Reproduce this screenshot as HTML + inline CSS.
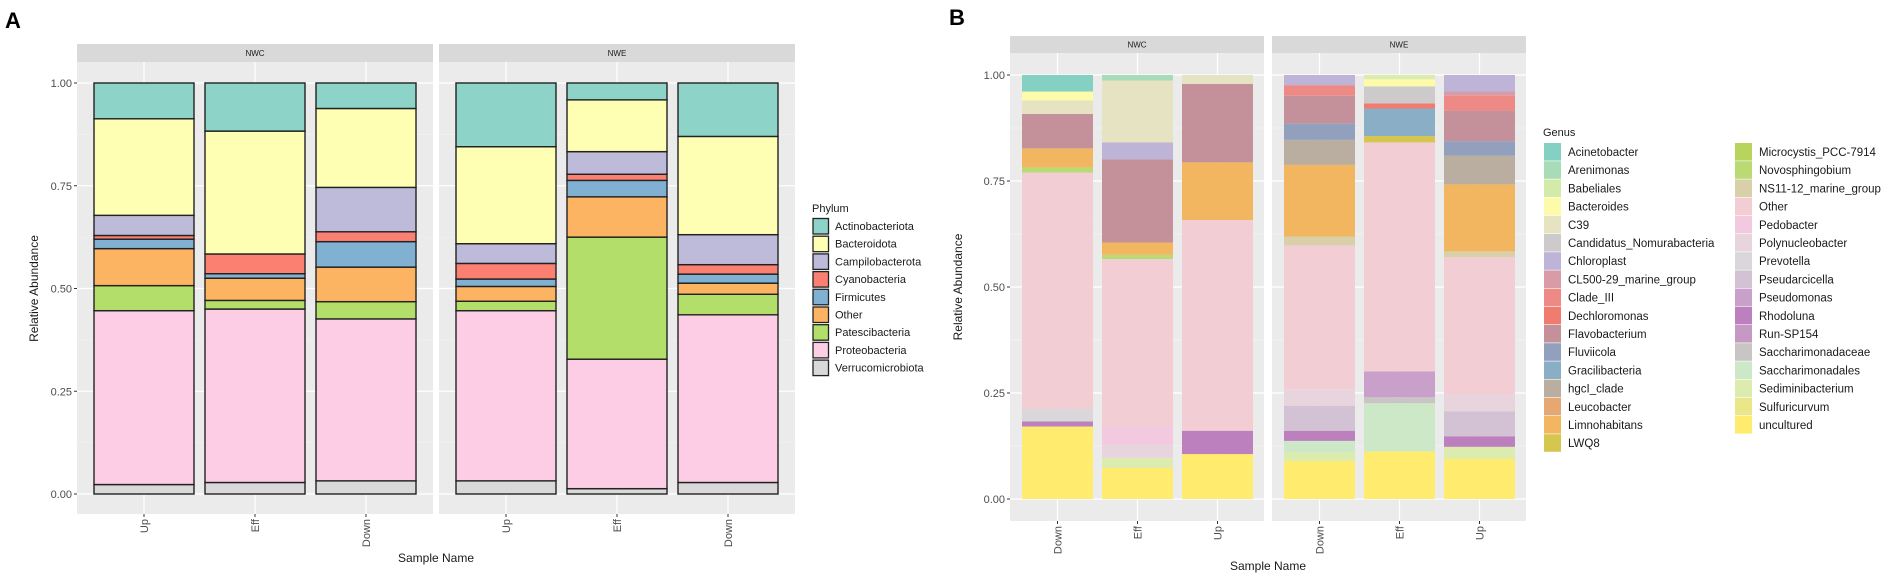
<!DOCTYPE html>
<html><head><meta charset="utf-8"><style>
body{margin:0;background:#fff;}
svg{display:block;font-family:"Liberation Sans",Arial,sans-serif;}
</style></head><body>
<svg id="fig" width="1901" height="581" viewBox="0 0 1901 581" xmlns="http://www.w3.org/2000/svg"></svg>
<script>
// ---------- Panel A data ----------
const phyla = ["Actinobacteriota","Bacteroidota","Campilobacterota","Cyanobacteria","Firmicutes","Other","Patescibacteria","Proteobacteria","Verrucomicrobiota"];
const phylaColors = ["#8dd3c7","#ffffb3","#bebada","#fb8072","#80b1d3","#fdb462","#b3de69","#fccde5","#d9d9d9"];
const samplesA = ["Up","Eff","Down"];
const facets = ["NWC","NWE"];
// stacked from bottom: Verruco, Proteo, Patesci, Other, Firmi, Cyano, Campi, Bacteroid, Actino
const stackOrderA = [8,7,6,5,4,3,2,1,0];
const A_NWC_Up   = [0.023,0.423,0.061,0.090,0.023,0.009,0.049,0.235,0.087];
const A_NWC_Eff  = [0.028,0.422,0.021,0.054,0.011,0.048,0.000,0.299,0.117];
const A_NWC_Down = [0.032,0.394,0.042,0.084,0.062,0.024,0.108,0.192,0.062];
const A_NWE_Up   = [0.032,0.414,0.023,0.036,0.018,0.038,0.048,0.236,0.155];
const A_NWE_Eff  = [0.013,0.315,0.297,0.098,0.040,0.015,0.055,0.126,0.041];
const A_NWE_Down = [0.028,0.408,0.050,0.027,0.022,0.023,0.073,0.239,0.130];
const yTicks = [0,0.25,0.5,0.75,1];
const yTickLabels = ["0.00","0.25","0.50","0.75","1.00"];

// ---------- Panel B data ----------
const genera = ["Acinetobacter","Arenimonas","Babeliales","Bacteroides","C39","Candidatus_Nomurabacteria","Chloroplast","CL500-29_marine_group","Clade_III","Dechloromonas","Flavobacterium","Fluviicola","Gracilibacteria","hgcI_clade","Leucobacter","Limnohabitans","LWQ8","Microcystis_PCC-7914","Novosphingobium","NS11-12_marine_group","Other","Pedobacter","Polynucleobacter","Prevotella","Pseudarcicella","Pseudomonas","Rhodoluna","Run-SP154","Saccharimonadaceae","Saccharimonadales","Sediminibacterium","Sulfuricurvum","uncultured"];
const generaColors = ["#84d0c2","#a8dcb8","#d3eba9","#fdfbaa","#e5e3c2","#cccaca","#bdb4d8","#d99ba6","#ee8a85","#f07c70","#c4919a","#93a0bd","#8aaec6","#b9ae9f","#e6a872","#f2b660","#d5c650","#b9d45c","#bada74","#d9d0a9","#f2cdd4","#f2c9de","#e8d4dd","#d9d7d9","#d3c2d4","#c8a0c9","#bc80be","#c699c5","#c9c5c5","#cde8c7","#dbecae","#ebe687","#ffeb6e"];
const samplesB = ["Down","Eff","Up"];
const B_NWC_Down_g = ["uncultured","Rhodoluna","Prevotella","Other","Other","Novosphingobium","Limnohabitans","Flavobacterium","C39","Bacteroides","Acinetobacter"];
const B_NWC_Down_v = [0.171,0.012,0.029,0.438,0.120,0.012,0.045,0.081,0.032,0.021,0.039];
const B_NWC_Eff_g = ["uncultured","Sediminibacterium","Polynucleobacter","Pedobacter","Other","Novosphingobium","Limnohabitans","Flavobacterium","Chloroplast","C39","Arenimonas"];
const B_NWC_Eff_v = [0.073,0.024,0.031,0.043,0.395,0.010,0.029,0.196,0.040,0.146,0.013];
const B_NWC_Up_g = ["uncultured","Rhodoluna","Other","Limnohabitans","Flavobacterium","C39"];
const B_NWC_Up_v = [0.106,0.055,0.497,0.136,0.185,0.021];
const B_NWE_Down_g = ["uncultured","Sediminibacterium","Saccharimonadales","Rhodoluna","Pseudarcicella","Polynucleobacter","Other","NS11-12_marine_group","Limnohabitans","hgcI_clade","Fluviicola","Flavobacterium","Clade_III","Chloroplast"];
const B_NWE_Down_v = [0.090,0.020,0.027,0.024,0.059,0.039,0.339,0.021,0.169,0.059,0.039,0.065,0.025,0.024];
const B_NWE_Eff_g = ["uncultured","Saccharimonadales","Saccharimonadaceae","Pseudomonas","Other","LWQ8","Gracilibacteria","Dechloromonas","Candidatus_Nomurabacteria","Bacteroides","Sediminibacterium"];
const B_NWE_Eff_v = [0.112,0.114,0.014,0.061,0.540,0.015,0.065,0.012,0.040,0.017,0.010];
const B_NWE_Up_g = ["uncultured","Sediminibacterium","Rhodoluna","Pseudarcicella","Polynucleobacter","Other","NS11-12_marine_group","Limnohabitans","hgcI_clade","Fluviicola","Flavobacterium","Clade_III","CL500-29_marine_group","Chloroplast"];
const B_NWE_Up_v = [0.095,0.028,0.025,0.059,0.039,0.324,0.014,0.158,0.068,0.034,0.072,0.035,0.010,0.039];

const NS="http://www.w3.org/2000/svg";
const svg=document.getElementById('fig');
function mk(tag,attrs,parent,text){const e=document.createElementNS(NS,tag);for(const k in attrs)e.setAttribute(k,attrs[k]);if(text!==undefined)e.textContent=text;(parent||svg).appendChild(e);return e;}

function drawPanel(cfg){
  const g=mk('g',{});
  
  
  const yScale=v=>cfg.y0+(cfg.y1-cfg.y0)*v;
  cfg.facets.forEach((f,fi)=>{
    const px=cfg.px[fi];
    const strip=mk('rect',{x:px,y:cfg.stripTop,width:cfg.pw,height:cfg.stripBot-cfg.stripTop,fill:'#d9d9d9'},g);
    
    
    const st=mk('text',{x:px+cfg.pw/2,y:(cfg.stripTop+cfg.stripBot)/2+3,'font-size':8,'text-anchor':'middle',fill:'#1a1a1a'},g,f);
    
    
    const bg=mk('rect',{x:px,y:cfg.stripBot,width:cfg.pw,height:cfg.pBot-cfg.stripBot,fill:'#ebebeb'},g);
    
    
    for(let i=0;i<4;i++){
      const v=0.125+0.25*i;
      const ml=mk('line',{x1:px,x2:px+cfg.pw,y1:yScale(v),y2:yScale(v),stroke:'#f5f5f5','stroke-width':0.6},g);
      
      
    }
    yTicks.forEach(v=>{
      const l=mk('line',{x1:px,x2:px+cfg.pw,y1:yScale(v),y2:yScale(v),stroke:'#fff','stroke-width':1.2},g);
      
      
    });
    cfg.samples.forEach((s,si)=>{
      const cx=px+cfg.c0+si*cfg.step;
      const l=mk('line',{x1:cx,x2:cx,y1:cfg.stripBot,y2:cfg.pBot,stroke:'#fff','stroke-width':1.2},g);
      
      
      const tk=mk('line',{x1:cx,x2:cx,y1:cfg.pBot,y2:cfg.pBot+3,stroke:'#333','stroke-width':1},g);
      
      
      const t=mk('text',{x:0,y:0,'font-size':11,'text-anchor':'end',fill:'#4d4d4d',transform:`translate(${cx+4},${cfg.pBot+5}) rotate(-90)`},g,s);
      
      
      const segs=cfg.data[fi][si];
      let acc=0;
      segs.forEach(sg=>{
        const yTop=yScale(acc+sg.v), yB=yScale(acc);
        const r=mk('rect',{x:cx-cfg.bw/2,y:yTop,width:cfg.bw,height:Math.max(0,yB-yTop),fill:sg.c},g);
        if(cfg.outline){r.setAttribute('stroke','#222');r.setAttribute('stroke-width','1.4');}
        
        
        acc+=sg.v;
      });
    });
  });
  yTicks.forEach((v,i)=>{
    const tk=mk('line',{x1:cfg.px[0]-3,x2:cfg.px[0],y1:yScale(v),y2:yScale(v),stroke:'#333','stroke-width':1},g);
    
    
    const t=mk('text',{x:cfg.px[0]-5,y:yScale(v)+4,'font-size':11,'text-anchor':'end',fill:'#4d4d4d'},g,yTickLabels[i]);
    
    
  });
  const yt=mk('text',{x:0,y:0,'font-size':12,'text-anchor':'middle',fill:'#1a1a1a',transform:`translate(${cfg.ytx},${(cfg.y0+cfg.y1)/2}) rotate(-90)`},g,'Relative Abundance');
  
  
  const xt=mk('text',{x:cfg.xtx,y:cfg.xty,'font-size':12,'text-anchor':'middle',fill:'#1a1a1a'},g,'Sample Name');
  
  
  const lt=mk('text',{x:cfg.lx,y:cfg.ly,'font-size':22,'font-weight':'bold',fill:'#000'},g,cfg.letter);
  
  
}

function segA(arr){return stackOrderA.map((pi,k)=>({v:arr[k],c:phylaColors[pi],n:phyla[pi]}));}
function segB(gs,vs){return gs.map((gn,k)=>({v:vs[k],c:generaColors[genera.indexOf(gn)],n:gn}));}

drawPanel({name:'panel-a-phylum-chart',facets,samples:samplesA,px:[77,439],pw:356,stripTop:44,stripBot:62,pBot:514,
  y0:494,y1:83,c0:67,step:111,bw:100,outline:true,ytx:38,xtx:436,xty:562,lx:5,ly:28,letter:'A',
  data:[[segA(A_NWC_Up),segA(A_NWC_Eff),segA(A_NWC_Down)],[segA(A_NWE_Up),segA(A_NWE_Eff),segA(A_NWE_Down)]]});

drawPanel({name:'panel-b-genus-chart',facets,samples:samplesB,px:[1010,1272],pw:254,stripTop:36,stripBot:53,pBot:521,
  y0:499,y1:75,c0:47.5,step:80,bw:71,outline:false,ytx:962,xtx:1268,xty:570,lx:949,ly:25,letter:'B',
  data:[[segB(B_NWC_Down_g,B_NWC_Down_v),segB(B_NWC_Eff_g,B_NWC_Eff_v),segB(B_NWC_Up_g,B_NWC_Up_v)],
        [segB(B_NWE_Down_g,B_NWE_Down_v),segB(B_NWE_Eff_g,B_NWE_Eff_v),segB(B_NWE_Up_g,B_NWE_Up_v)]]});

// Legend A
const la=mk('g',{});


const lat=mk('text',{x:812,y:212,'font-size':11,fill:'#1a1a1a'},la,'Phylum');


phyla.forEach((p,i)=>{
  const y=218+i*17.7;
  const r=mk('rect',{x:813,y:y+0.5,width:15.5,height:15.5,fill:phylaColors[i],stroke:'#222','stroke-width':1.3},la);
  
  
  const t=mk('text',{x:835,y:y+12,'font-size':11,fill:'#1a1a1a'},la,p);
  
  
});
// Legend B
const lb=mk('g',{});


const lbt=mk('text',{x:1543,y:136,'font-size':11,fill:'#1a1a1a'},lb,'Genus');


genera.forEach((gn,i)=>{
  const col=i<17?0:1, row=i<17?i:i-17;
  const x=col?1735:1544, y=143+row*18.2;
  const r=mk('rect',{x:x,y:y,width:17,height:17.6,fill:generaColors[i]},lb);
  
  
  const t=mk('text',{x:x+24,y:y+13,'font-size':11.5,fill:'#1a1a1a'},lb,gn);
  
  
});
</script>
</body></html>
